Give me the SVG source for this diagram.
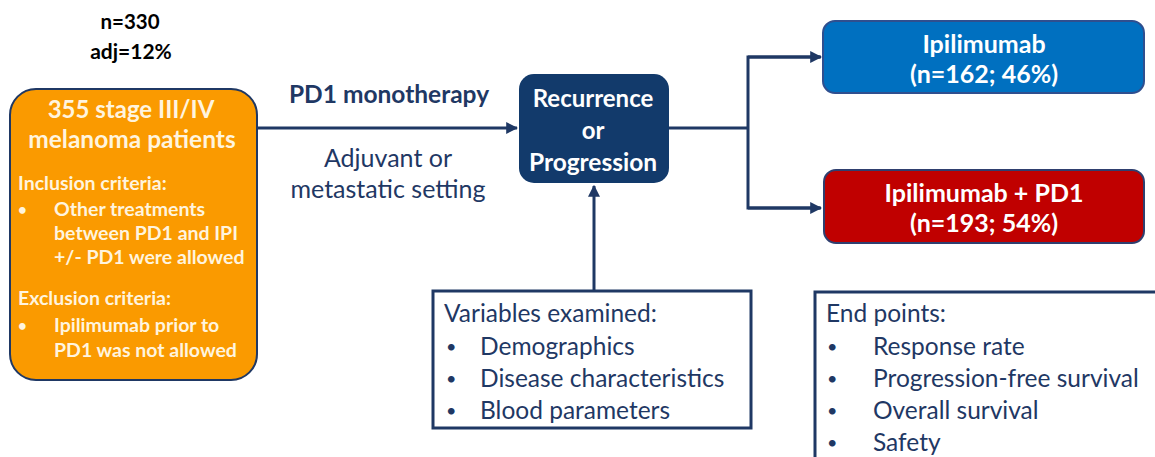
<svg xmlns="http://www.w3.org/2000/svg" width="1155" height="457" viewBox="0 0 1155 457">
<defs>
<marker id="ah" viewBox="0 0 10 10" refX="9" refY="5" markerWidth="4" markerHeight="4" orient="auto" markerUnits="strokeWidth">
<path d="M0,0 L10,5 L0,10 z" fill="#1F3864"/>
</marker>
<style>
text{font-family:Lato,"Open Sans","Liberation Sans",sans-serif;}
.b{font-weight:bold;}
.w{fill:#FFFFFF;}
.ow{fill:#FFF4DE;}
.n{fill:#1F3864;}
.k{fill:#000000;}
.c{text-anchor:middle;}
.conn{stroke:#1F3864;stroke-width:3;fill:none;}
.lst{font-size:24.5px;}
.og{font-size:19.5px;}
</style>
</defs>
<rect width="1155" height="457" fill="#FFFFFF"/>
<g id="header">
<text class="b k c" x="130" y="29" font-size="20.5">n=330</text>
<text class="b k c" x="131" y="59" font-size="21">adj=12%</text>
</g>
<g id="connectors">
<line class="conn" x1="257" y1="128" x2="517" y2="128" marker-end="url(#ah)"/>
<polyline class="conn" points="669,128 748,128"/>
<polyline class="conn" points="820,57 748,57 748,208 820,208"/>
<line class="conn" x1="748" y1="57" x2="821" y2="57" marker-end="url(#ah)"/>
<line class="conn" x1="748" y1="208" x2="821" y2="208" marker-end="url(#ah)"/>
<line class="conn" x1="594" y1="290" x2="594" y2="186" marker-end="url(#ah)"/>
</g>
<g id="patients">
<rect x="10" y="89" width="247" height="291" rx="26" fill="#FA9A00" stroke="#1F3864" stroke-width="2"/>
<text class="b ow c" x="131" y="118" font-size="24">355 stage III/IV</text>
<text class="b ow c" x="132" y="148" font-size="24.5">melanoma patients</text>
<text class="b ow og" x="18" y="190">Inclusion criteria:</text>
<text class="b ow" x="18" y="215" font-size="15">•</text>
<text class="b ow og" x="54" y="216">Other treatments</text>
<text class="b ow og" x="54" y="240">between PD1 and IPI</text>
<text class="b ow og" x="54" y="264">+/- PD1 were allowed</text>
<text class="b ow og" x="18" y="305">Exclusion criteria:</text>
<text class="b ow" x="18" y="331" font-size="15">•</text>
<text class="b ow og" x="54" y="332">Ipilimumab prior to</text>
<text class="b ow og" x="54" y="357">PD1 was not allowed</text>
</g>
<g id="edge-labels">
<text class="b n c" x="389" y="103" font-size="24.5">PD1 monotherapy</text>
<text class="n c" x="388" y="167" font-size="25">Adjuvant or</text>
<text class="n c" x="388" y="198" font-size="25">metastatic setting</text>
</g>
<g id="recurrence">
<rect x="519" y="74" width="150" height="109" rx="15" fill="#123A6B"/>
<text class="b w c" x="593" y="107" font-size="24">Recurrence</text>
<text class="b w c" x="593" y="139" font-size="24">or</text>
<text class="b w c" x="593" y="171" font-size="24.5">Progression</text>
</g>
<g id="ipilimumab">
<rect x="823" y="21" width="321" height="72" rx="12" fill="#0070C0" stroke="#2F4F8F" stroke-width="2"/>
<text class="b w c" x="984" y="53" font-size="25">Ipilimumab</text>
<text class="b w c" x="984" y="83" font-size="25">(n=162; 46%)</text>
</g>
<g id="ipi-pd1">
<rect x="824" y="170" width="320" height="73" rx="12" fill="#C00000" stroke="#2F3F6F" stroke-width="2"/>
<text class="b w c" x="984" y="202" font-size="25">Ipilimumab + PD1</text>
<text class="b w c" x="984" y="232" font-size="25">(n=193; 54%)</text>
</g>
<g id="variables">
<rect x="433" y="291" width="318" height="137" fill="#FFFFFF" stroke="#1F3864" stroke-width="3"/>
<text class="n lst" x="444" y="322">Variables examined:</text>
<text class="n" x="446" y="353" font-size="18">•</text>
<text class="n lst" x="480" y="355">Demographics</text>
<text class="n" x="446" y="385" font-size="18">•</text>
<text class="n lst" x="480" y="387">Disease characteristics</text>
<text class="n" x="446" y="417" font-size="18">•</text>
<text class="n lst" x="480" y="419">Blood parameters</text>
</g>
<g id="endpoints">
<path d="M815,459 L815,292 L1157,292" fill="#FFFFFF" stroke="#1F3864" stroke-width="3"/>
<text class="n lst" x="826" y="322">End points:</text>
<text class="n" x="827" y="353" font-size="18">•</text>
<text class="n lst" x="873" y="355">Response rate</text>
<text class="n" x="827" y="385" font-size="18">•</text>
<text class="n lst" x="873" y="387">Progression-free survival</text>
<text class="n" x="827" y="417" font-size="18">•</text>
<text class="n lst" x="873" y="419">Overall survival</text>
<text class="n" x="827" y="449" font-size="18">•</text>
<text class="n lst" x="873" y="451">Safety</text>
</g>
</svg>
